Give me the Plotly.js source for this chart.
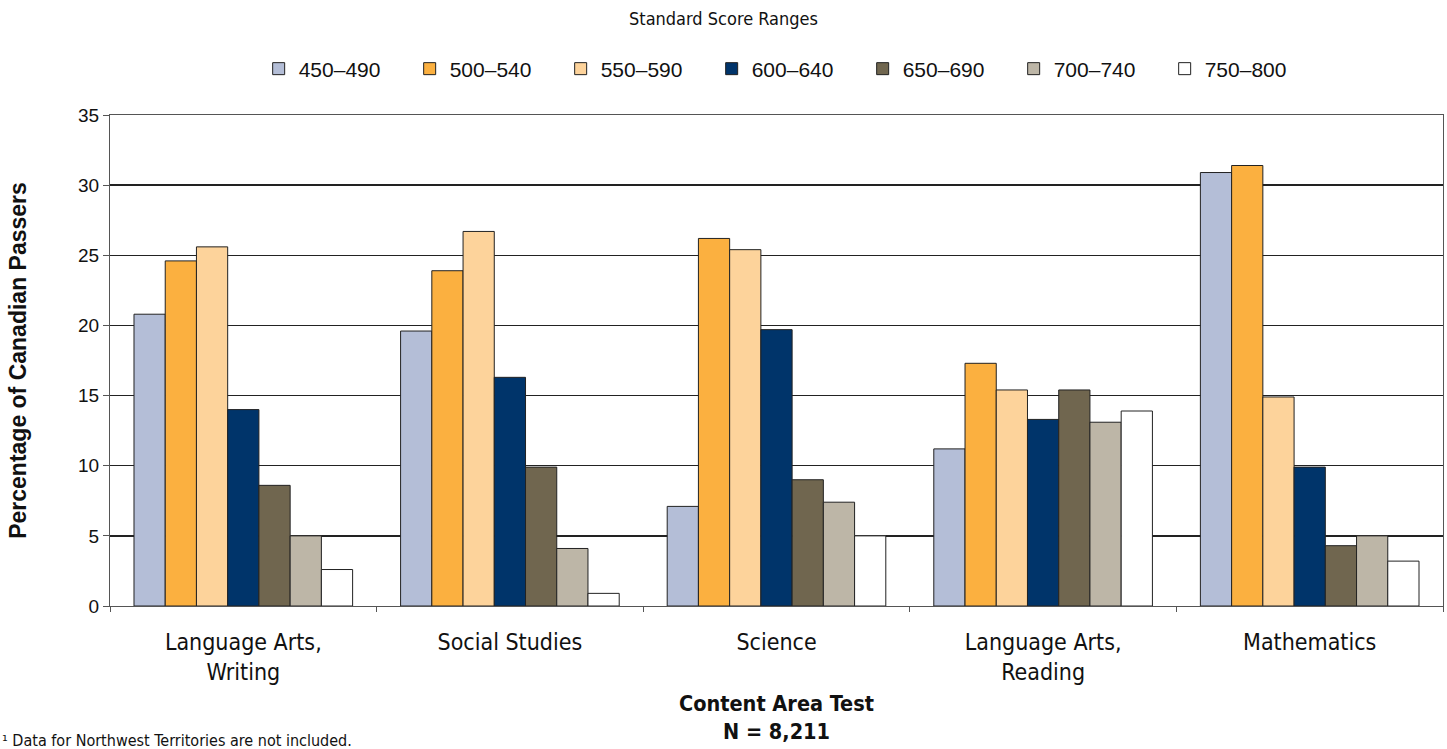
<!DOCTYPE html>
<html>
<head>
<meta charset="utf-8">
<script src="https://cdn.plot.ly/plotly-3.0.1.min.js"></script>
<style>
html,body{margin:0;padding:0;background:#fff;}
#chart{width:1447px;height:749px;}
</style>
</head>
<body>
<div id="chart"></div>
<script>
const categories = ["Language Arts,<br>Writing", "Social Studies", "Science", "Language Arts,<br>Reading", "Mathematics"];
const seriesNames = ["450–490", "500–540", "550–590", "600–640", "650–690", "700–740", "750–800"];
const s450 = [20.8, 19.6, 7.1, 11.2, 30.9];
const s500 = [24.6, 23.9, 26.2, 17.3, 31.4];
const s550 = [25.6, 26.7, 25.4, 15.4, 14.9];
const s600 = [14.0, 16.3, 19.7, 13.3, 9.9];
const s650 = [8.6, 9.9, 9.0, 15.4, 4.3];
const s700 = [5.0, 4.1, 7.4, 13.1, 5.0];
const s750 = [2.6, 0.9, 5.0, 13.9, 3.2];
const seriesValues = [s450, s500, s550, s600, s650, s700, s750];
const colors = ["#B4BED7", "#FBB040", "#FDD39B", "#00346A", "#70664F", "#BDB6A7", "#FFFFFF"];

const narrow = "'DejaVu Sans Condensed', 'Liberation Sans Narrow', sans-serif";
const sans = "'Liberation Sans', Arial, sans-serif";
const traces = seriesNames.map((n, i) => ({
  type: "bar",
  name: n,
  x: categories,
  y: seriesValues[i],
  marker: {color: colors[i], line: {color: "#222222", width: 1}},
  hoverinfo: "x+y+name"
}));

const layout = {
  width: 1447, height: 749,
  margin: {l: 110, r: 4, t: 115, b: 143},
  paper_bgcolor: "#ffffff", plot_bgcolor: "#ffffff",
  barmode: "group", bargap: 0.18, bargroupgap: 0,
  title: {text: "Standard Score Ranges", x: 0.5, xref: "container", y: 1 - 19/749, yref: "container", yanchor: "middle",
          font: {family: narrow, size: 18, color: "#111"}},
  legend: {orientation: "h", x: 0.508, xanchor: "center", xref: "paper", y: 1 - 69/749, yref: "container", yanchor: "middle",
           font: {family: sans, size: 21, color: "#111"}, entrywidth: 106, traceorder: "normal"},
  xaxis: {
    type: "category", tickson: "boundaries", ticks: "outside", ticklen: 5, tickcolor: "#555",
    showline: true, linecolor: "#555", linewidth: 1, mirror: true,
    ticklabelstandoff: 15,
    tickfont: {family: narrow, size: 23, color: "#111"},
    title: {text: "<b>Content Area Test<br>N = 8,211</b>", font: {family: narrow, size: 21.5, color: "#111"}, standoff: 12}
  },
  yaxis: {
    range: [0, 35], dtick: 5, ticks: "outside", ticklen: 6, tickcolor: "#555",
    showline: true, linecolor: "#555", linewidth: 1, mirror: true,
    showgrid: true, gridcolor: "#222", gridwidth: 1.5, zeroline: false,
    tickfont: {family: sans, size: 19, color: "#111"},
    title: {text: "<b>Percentage of Canadian Passers</b>", font: {family: sans, size: 23, color: "#111"}, standoff: 45}
  },
  annotations: [{
    text: "¹ Data for Northwest Territories are not included.", xref: "paper", yref: "paper",
    x: -110/1333, y: (606 - 740)/491, xanchor: "left", yanchor: "middle", showarrow: false,
    font: {family: narrow, size: 16, color: "#111"}
  }],
  showlegend: true
};

Plotly.newPlot("chart", traces, layout, {displayModeBar: false, staticPlot: true});
</script>
</body>
</html>
